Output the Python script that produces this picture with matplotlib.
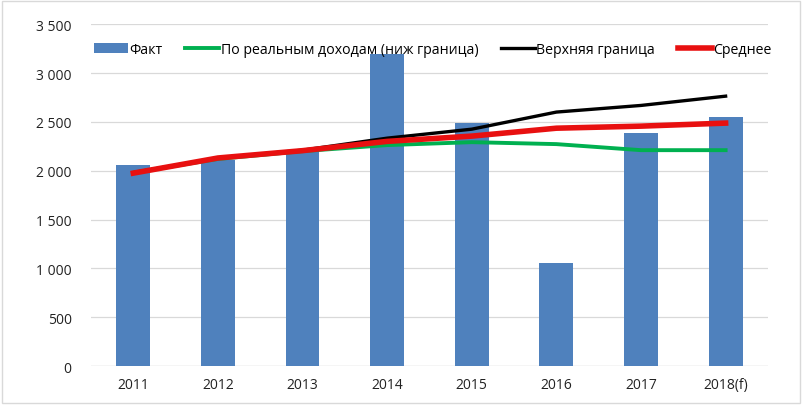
import matplotlib.pyplot as plt
from matplotlib.ticker import FuncFormatter

plt.rcParams['font.family'] = ['Open Sans', 'DejaVu Sans']

years = ['2011', '2012', '2013', '2014', '2015', '2016', '2017', '2018(f)']
fact = [2057, 2110, 2200, 3193, 2487, 1054, 2385, 2548]
real_income = [1980, 2120, 2200, 2262, 2292, 2272, 2210, 2210]
upper = [1980, 2130, 2210, 2333, 2425, 2600, 2668, 2763]
mean = [1975, 2130, 2205, 2300, 2354, 2435, 2456, 2487]

fig = plt.figure(figsize=(8.02, 4.06), dpi=100)
ax = fig.add_axes([0.1135, 0.096, 0.844, 0.842])

x = range(len(years))
b = ax.bar(x, fact, width=0.4, color='#4F81BD', label='Факт', zorder=2)
l1, = ax.plot(x, real_income, color='#00B050', lw=2.8, label='По реальным доходам (ниж граница)', zorder=3)
l2, = ax.plot(x, upper, color='black', lw=2.4, label='Верхняя граница', zorder=4)
l3, = ax.plot(x, mean, color='#E81010', lw=4.0, label='Среднее', zorder=5)

ax.set_xlim(-0.5, len(years) - 0.5)
ax.set_ylim(0, 3500)
ax.set_yticks(range(0, 3501, 500))
ax.yaxis.set_major_formatter(FuncFormatter(lambda v, p: f'{int(v):,}'.replace(',', ' ')))
ax.set_xticks(list(x))
ax.set_xticklabels(years)
ax.tick_params(length=0, labelsize=10, colors='#222222')
ax.tick_params(axis='y', pad=14)
ax.tick_params(axis='x', pad=8)
ax.grid(axis='y', color='#d9d9d9', lw=0.9, zorder=0)
for s in ax.spines.values():
    s.set_visible(False)
ax.axhline(0, color='#d9d9d9', lw=0.9, zorder=1)

ax.legend([b, l1, l2, l3], [h.get_label() for h in (b, l1, l2, l3)],
          loc='upper center', bbox_to_anchor=(0.505, 0.985), ncol=4, frameon=False,
          fontsize=10.2, handlelength=2.4, handletextpad=0.1, columnspacing=1.6)

fig.patches.append(plt.Rectangle((0.002, 0.004), 0.995, 0.992, transform=fig.transFigure,
                                 fill=False, edgecolor='#d9d9d9', lw=1))
fig.savefig('out.png', dpi=100)
